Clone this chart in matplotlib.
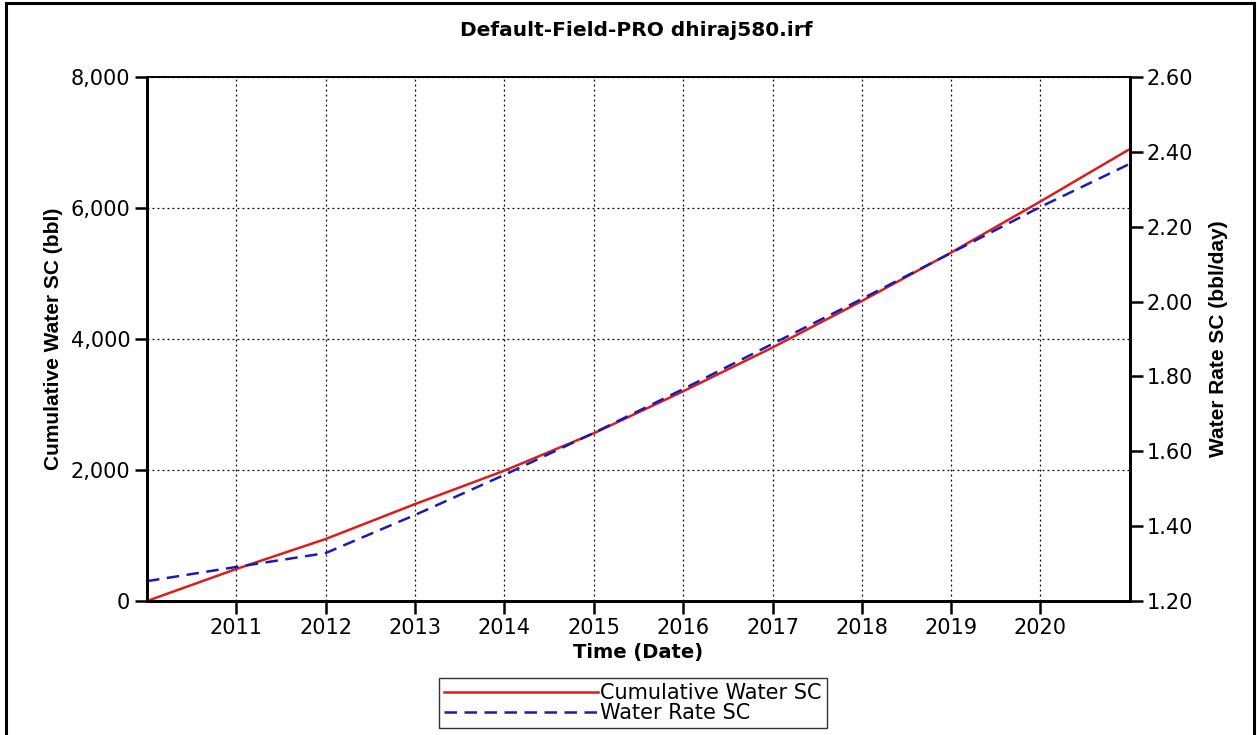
import matplotlib
matplotlib.use("Agg")
import matplotlib.pyplot as plt
from matplotlib.patches import Rectangle
from matplotlib.ticker import FuncFormatter, MultipleLocator
import datetime as dt

plt.rcParams['font.family'] = ['DejaVu Sans']

# yearly samples (Jan 1) plus the final day of the run
fechas = [dt.date(y, 1, 1) for y in range(2010, 2021)] + [dt.date(2020, 12, 31)]
acumulado = [0, 489, 946, 1480, 1990, 2560, 3200, 3870, 4580, 5320, 6100, 6900]
tasa = [1.253, 1.291, 1.328, 1.430, 1.537, 1.649, 1.766, 1.887, 2.007, 2.130, 2.253, 2.368]
anios = list(range(2011, 2021))

fig = plt.figure(figsize=(12.57, 7.35), dpi=100)
ax = fig.add_axes([147 / 1257, 1 - 601 / 735, (1130 - 147) / 1257, (601 - 77) / 735])
ax2 = ax.twinx()

l1, = ax.plot(fechas, acumulado, color='#dd1c1c', lw=1.8, label='Cumulative Water SC')
l2, = ax2.plot(fechas, tasa, color='#1a1ab4', lw=1.8, ls=(0, (5, 3)), label='Water Rate SC')

ax.set_xlim(dt.date(2010, 1, 1), dt.date(2021, 1, 1))
ax.set_ylim(0, 8000)
ax2.set_ylim(1.2, 2.6)

ax.set_xticks([dt.date(y, 1, 1) for y in anios], [str(y) for y in anios])
ax.yaxis.set_major_locator(MultipleLocator(2000))
ax.yaxis.set_major_formatter(FuncFormatter(lambda v, p: f'{int(v):,}'))
ax2.yaxis.set_major_locator(MultipleLocator(0.2))
ax2.yaxis.set_major_formatter(FuncFormatter(lambda v, p: f'{v:.2f}'))

ax.grid(True, color='black', ls=(0, (1.5, 2.5)), lw=0.9)
for a in (ax, ax2):
    a.tick_params(direction='out', length=9, width=1.8, labelsize=15, pad=3)
    for s in a.spines.values():
        s.set_linewidth(1.2)
    a.spines['left'].set_linewidth(2)
    a.spines['right'].set_linewidth(2)
    a.spines['bottom'].set_linewidth(2)

ax.set_xlabel('Time (Date)', fontsize=14, fontweight='bold', labelpad=4)
ax.set_ylabel('Cumulative Water SC (bbl)', fontsize=15, fontweight='bold',
              family=['Liberation Sans', 'DejaVu Sans'])
ax2.set_ylabel('Water Rate SC (bbl/day)', fontsize=15, fontweight='bold',
               family=['Liberation Sans', 'DejaVu Sans'])
ax.yaxis.set_label_coords((63 - 147) / 983, 0.5)
ax2.yaxis.set_label_coords((1209 - 147) / 983, 0.5)

fig.suptitle('Default-Field-PRO dhiraj580.irf', x=636 / 1257, y=1 - 30 / 735,
             fontsize=14.5, fontweight='bold', va='center')

leg = fig.legend(handles=[l1, l2], loc='center', bbox_to_anchor=(633 / 1257, 1 - 703 / 735),
                 fontsize=15, frameon=True, fancybox=False, handlelength=7.4,
                 handletextpad=0.1, borderpad=0.25, labelspacing=0.0, borderaxespad=0)
leg.get_frame().set_edgecolor('black')
leg.get_frame().set_linewidth(1.0)

# outer frame around the whole figure
fig.patches.append(Rectangle((6 / 1257, -0.01), 1248 / 1257, 1.01 - 3 / 735,
                             transform=fig.transFigure, fill=False, edgecolor='black', lw=2.2))

fig.savefig('out.png', dpi=100)
